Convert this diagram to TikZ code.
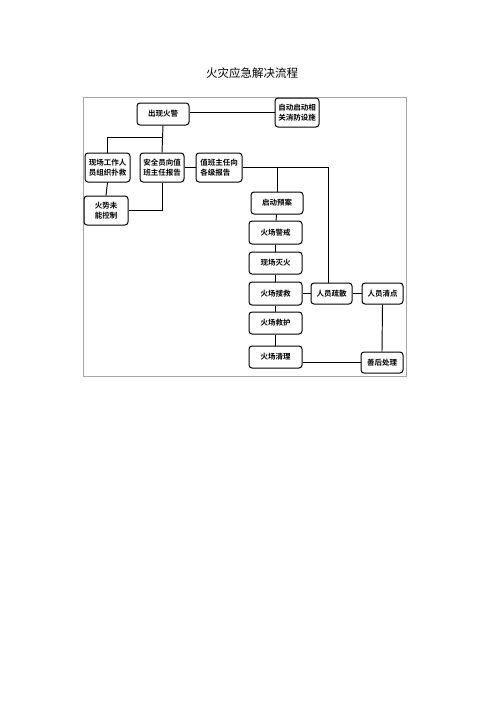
\documentclass[tikz,border=0pt]{standalone}
\usepackage{fontspec}
\setmainfont{Noto Sans CJK SC}
\newfontfamily\cjkb{Noto Sans CJK SC Bold}
\begin{document}
\begin{tikzpicture}[x=1pt,y=-1pt,
  box/.style={draw=black,line width=1pt,rounded corners=3pt,inner sep=0pt,align=center,font=\cjkb\fontsize{7.5}{9.5}\selectfont},
  conn/.style={draw=black,line width=0.95pt}]
\useasboundingbox (0,0) rectangle (500,707);
\node (title) at (252,73) {\fontsize{11.5}{13}\selectfont 火灾应急解决流程};
\draw[gray!70,line width=1pt] (83,97) rectangle (406,376);
\node[box,minimum width=52pt,minimum height=22pt] (n1) at (163,114) {出现火警};
\node[box,minimum width=44pt,minimum height=29pt] (n2) at (297,112.5) {自动启动相\\关消防设施};
\node[box,minimum width=45pt,minimum height=29pt] (n3) at (107.5,167.5) {现场工作人\\员组织扑救};
\node[box,minimum width=44pt,minimum height=29pt] (n4) at (162,167.5) {安全员向值\\班主任报告};
\node[box,minimum width=46pt,minimum height=29pt,align=left] (n5) at (219,167.5) {值班主任向\\各级报告};
\node[box,minimum width=44pt,minimum height=29pt] (n6) at (106,210.5) {火势未\\能控制};
\node[box,minimum width=52pt,minimum height=22pt] (n7) at (277,203) {启动预案};
\node[box,minimum width=53pt,minimum height=23pt] (n8) at (275.5,232.5) {火场警戒};
\node[box,minimum width=53pt,minimum height=22pt] (n9) at (275.5,263) {现场灭火};
\node[box,minimum width=53pt,minimum height=23pt] (n10) at (275.5,293.5) {火场搜救};
\node[box,minimum width=53pt,minimum height=22pt] (n11) at (275.5,323) {火场救护};
\node[box,minimum width=53pt,minimum height=22pt] (n12) at (275.5,357) {火场清理};
\node[box,minimum width=41pt,minimum height=21pt] (n13) at (331.5,293.5) {人员疏散};
\node[box,minimum width=41pt,minimum height=21pt] (n14) at (382.5,293.5) {人员清点};
\node[box,minimum width=42pt,minimum height=21pt] (n15) at (382,362.5) {善后处理};
\coordinate (j1) at (163,137);
\coordinate (j2) at (328,167.5);
\draw[conn] (n1.east |- n2.west) -- (n2.west);
\draw[conn] (n1.south) -- (n4.north);
\draw[conn] (n3.north) |- (j1);
\draw[conn] (n3.south) -- (n6.north);
\draw[conn] (n6.east) -| (n4.south);
\draw[conn] (n4.east) -- (n5.west);
\draw[conn] (n5.east) -- (j2) -- (j2 |- n13.north);
\draw[conn] (n7.north) -- (n7.north |- n5.east);
\draw[conn] (n7) -- (n8);
\draw[conn] (n8) -- (n9);
\draw[conn] (n9) -- (n10);
\draw[conn] (n10) -- (n11);
\draw[conn] (n11) -- (n12);
\draw[conn] (n10.east) -- (n13.west);
\draw[conn] (n13.east) -- (n14.west);
\draw[conn] (n14.south) -- (n15.north);
\draw[conn] (n12.east |- n15.west) -- (n15.west);
\end{tikzpicture}
\end{document}
